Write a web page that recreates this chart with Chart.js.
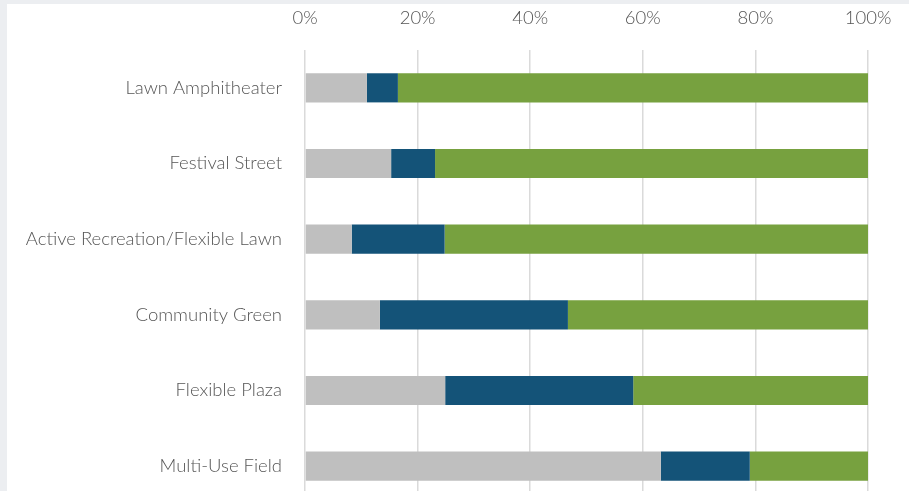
<!DOCTYPE html>
<html>
<head>
<meta charset="utf-8">
<script src="https://cdn.jsdelivr.net/npm/chart.js@4.4.1/dist/chart.umd.min.js"></script>
<style>
  html, body { margin: 0; padding: 0; width: 909px; height: 491px; overflow: hidden; background: #eceef1; }
  #wrap { position: absolute; left: 7px; top: 4px; width: 902px; height: 510px; background: #ffffff; }
  canvas { display: block; }
</style>
</head>
<body>
<div id="wrap"><canvas id="c" width="902" height="510" style="width:902px;height:510px"></canvas></div>
<script>
const categories = ["Lawn Amphitheater", "Festival Street", "Active Recreation/Flexible Lawn", "Community Green", "Flexible Plaza", "Multi-Use Field"];
const seriesLow = [11.0, 15.3, 8.3, 13.3, 24.9, 63.2];
const seriesMid = [5.5, 7.8, 16.5, 33.4, 33.4, 15.8];
const seriesHigh = [83.5, 76.9, 75.2, 53.3, 41.7, 21.0];
const tickValues = [0, 20, 40, 60, 80, 100];

const font = { family: "Lato, 'Noto Sans', sans-serif", size: 18.5, weight: '300' };

new Chart(document.getElementById('c'), {
  type: 'bar',
  data: {
    labels: categories,
    datasets: [
      { label: 'Low', data: seriesLow, backgroundColor: '#bfbfbf' },
      { label: 'Medium', data: seriesMid, backgroundColor: '#145378' },
      { label: 'High', data: seriesHigh, backgroundColor: '#77a13f' }
    ]
  },
  options: {
    indexAxis: 'y',
    responsive: false,
    maintainAspectRatio: false,
    animation: false,
    categoryPercentage: 1,
    barPercentage: 0.385,
    layout: { padding: { top: 0, right: 41, bottom: 10, left: 0 } },
    plugins: { legend: { display: false }, tooltip: { enabled: false } },
    scales: {
      x: {
        position: 'top',
        stacked: true,
        min: 0, max: 100,
        afterBuildTicks: (s) => { s.ticks = tickValues.map(v => ({ value: v })); },
        afterFit: (s) => { s.height = 46; s.paddingLeft = 0; s.paddingRight = 0; },
        ticks: { callback: (v) => v + '%', color: '#555555', font: font, padding: 21, maxRotation: 0 },
        grid: { color: '#dadada', lineWidth: 1.5, drawTicks: false },
        border: { display: false }
      },
      y: {
        stacked: true,
        afterFit: (s) => { s.width = 298; s.paddingTop = 0; s.paddingBottom = 0; },
        ticks: { color: '#555555', font: font, padding: 23 },
        grid: { display: false, drawTicks: false },
        border: { display: false }
      }
    }
  }
});
</script>
</body>
</html>
